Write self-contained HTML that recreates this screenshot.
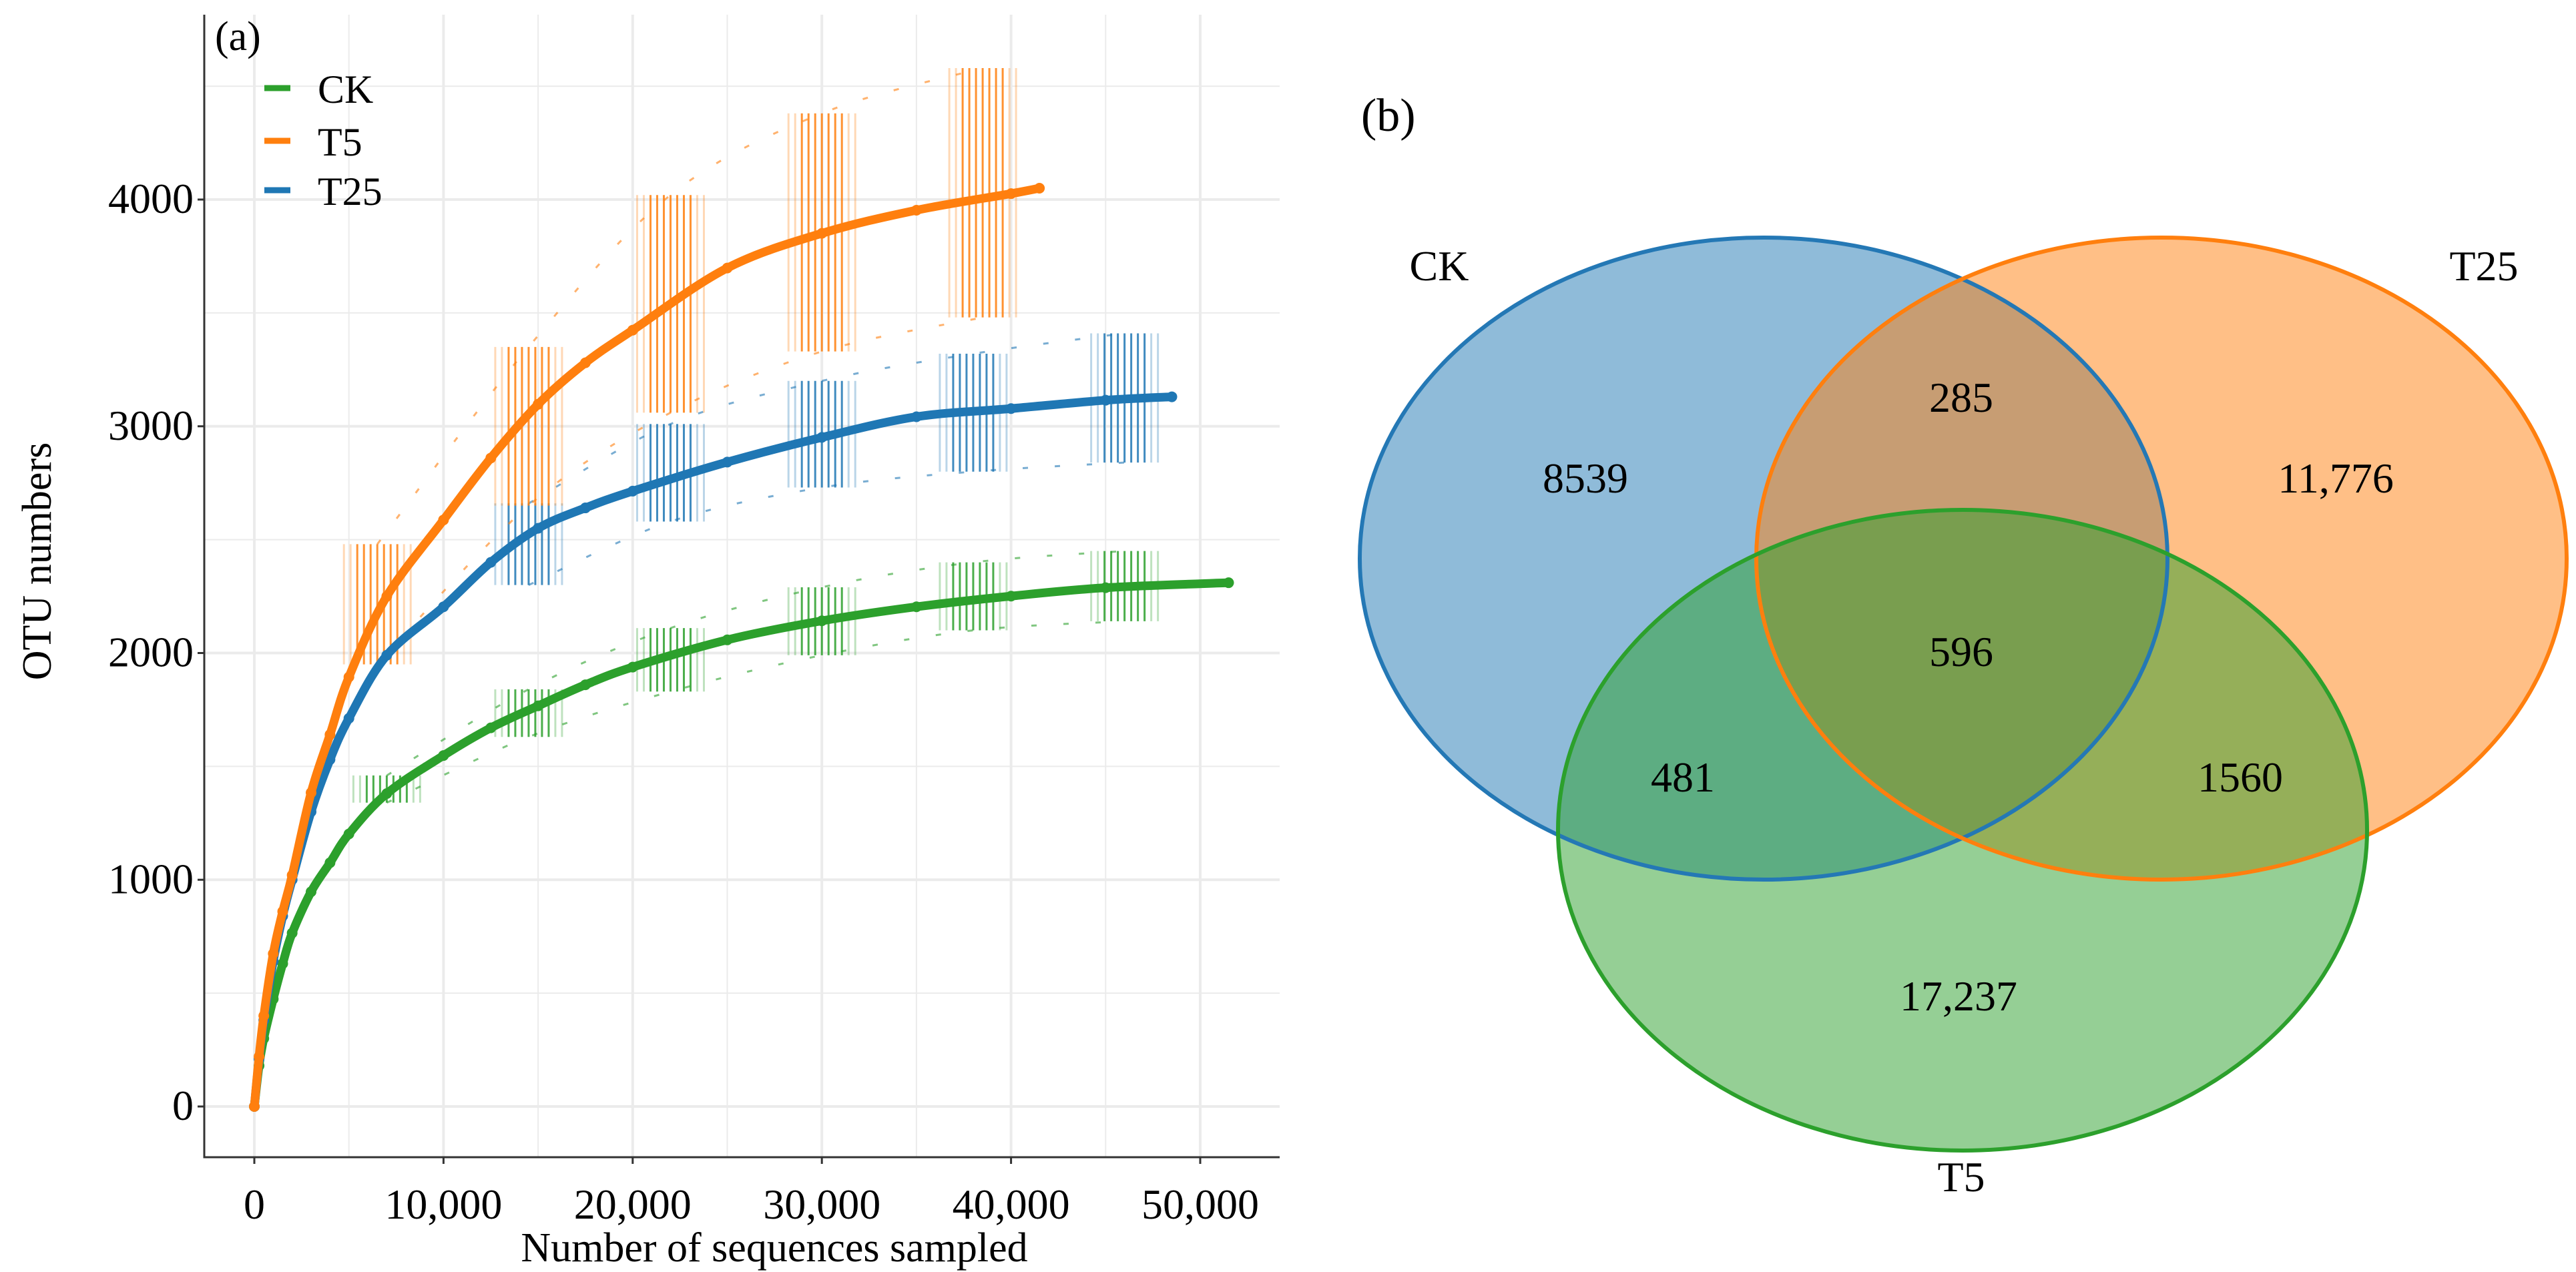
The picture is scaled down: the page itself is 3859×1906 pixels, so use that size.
<!DOCTYPE html>
<html><head><meta charset="utf-8"><style>
html,body{margin:0;padding:0;background:#fff;}
svg{display:block;font-family:"Liberation Serif",serif;}
</style></head><body>
<svg id="fig" width="3859" height="1906" viewBox="0 0 3859 1906" xmlns="http://www.w3.org/2000/svg">
<g id="chartA"></g>
<g id="venn">
  <text x="2039" y="196" font-size="70">(b)</text>
  <ellipse cx="2642" cy="837" rx="605" ry="481" fill="rgb(31,119,180)" fill-opacity="0.5" stroke="none"/>
  <ellipse cx="3238" cy="837" rx="607" ry="481" fill="rgb(255,127,14)" fill-opacity="0.5" stroke="none"/>
  <ellipse cx="2940" cy="1244" rx="606" ry="480" fill="rgb(44,160,44)" fill-opacity="0.5" stroke="none"/>
  <ellipse cx="2642" cy="837" rx="605" ry="481" fill="none" stroke="#2478b5" stroke-width="6"/>
  <ellipse cx="3238" cy="837" rx="607" ry="481" fill="none" stroke="#ff7f0e" stroke-width="6"/>
  <ellipse cx="2940" cy="1244" rx="606" ry="480" fill="none" stroke="#2ca02c" stroke-width="6"/>
  <g font-size="64" text-anchor="middle" fill="#000">
    <text x="2156" y="420">CK</text>
    <text x="3721" y="420">T25</text>
    <text x="2938" y="1785">T5</text>
    <text x="2375" y="738">8539</text>
    <text x="2938" y="617">285</text>
    <text x="3499" y="738">11,776</text>
    <text x="2938" y="998">596</text>
    <text x="2521" y="1186">481</text>
    <text x="3356" y="1186">1560</text>
    <text x="2934" y="1514">17,237</text>
  </g>
</g>
</svg>
<script>
const xTicks = [0, 10000, 20000, 30000, 40000, 50000];
const xTickLabels = ["0", "10,000", "20,000", "30,000", "40,000", "50,000"];
const yTicks = [0, 1000, 2000, 3000, 4000];
const yTickLabels = ["0", "1000", "2000", "3000", "4000"];
const seriesNames = ["CK", "T5", "T25"];
const ckX = [0,250,500,1000,1500,2000,3000,4000,5000,7000,10000,12500,15000,17500,20000,25000,30000,35000,40000,45000,51500];
const ckY = [0,180,300,474,630,765,947,1075,1202,1380,1548,1670,1767,1860,1938,2058,2142,2204,2251,2288,2310];
const t5X = [0,250,500,1000,1500,2000,3000,4000,5000,7000,10000,12500,15000,17500,20000,25000,30000,35000,40000,41500];
const t5Y = [0,220,400,674,860,1020,1384,1640,1894,2250,2587,2860,3097,3280,3424,3698,3851,3953,4026,4050];
const t25X = [0,250,500,1000,1500,2000,3000,4000,5000,7000,10000,12500,15000,17500,20000,25000,30000,35000,40000,45000,48500];
const t25Y = [0,210,380,640,840,1000,1300,1530,1712,1990,2204,2400,2550,2640,2714,2842,2951,3042,3078,3115,3130];
const ckErrX = [7000, 14500, 22000, 30000, 38000, 46000];
const ckErrLo = [1340, 1630, 1830, 1990, 2100, 2140];
const ckErrHi = [1460, 1840, 2110, 2290, 2400, 2450];
const t5ErrX = [6500, 14500, 22000, 30000, 38500];
const t5ErrLo = [1950, 2650, 3060, 3330, 3480];
const t5ErrHi = [2480, 3350, 4020, 4380, 4580];
const t25ErrX = [14500, 22000, 30000, 38000, 46000];
const t25ErrLo = [2300, 2580, 2730, 2800, 2840];
const t25ErrHi = [2660, 3010, 3200, 3320, 3410];

const NS = "http://www.w3.org/2000/svg";
const X0 = 306, X1 = 1917, Y0 = 22, Y1 = 1734;
function sx(v){ return 381 + v * (1798 - 381) / 50000; }
function sy(v){ return 1658 - v * (1658 - 299) / 4000; }
const g = document.getElementById('chartA');
function mk(tag, attrs, parent){ const e = document.createElementNS(NS, tag); for (const k in attrs) e.setAttribute(k, attrs[k]); (parent||g).appendChild(e); return e; }

for (let v = 0; v <= 4500; v += 500) {
  const l = mk('line', {x1:X0, x2:X1, y1:sy(v), y2:sy(v), stroke:'#ebebeb', 'stroke-width': v%1000===0?4:2});
  
  
}
for (let v = 0; v <= 55000; v += 5000) {
  if (sx(v) > X1) break;
  const l = mk('line', {x1:sx(v), x2:sx(v), y1:Y0, y2:Y1, stroke:'#ebebeb', 'stroke-width': v%10000===0?4:2});
  
  
}
const ax = mk('path', {d:`M${X0},${Y0} L${X0},${Y1} L${X1},${Y1}`, fill:'none', stroke:'#333', 'stroke-width':3});


yTicks.forEach((v, i) => {
  const t = mk('line', {x1:X0-10, x2:X0, y1:sy(v), y2:sy(v), stroke:'#333', 'stroke-width':3});
  
  
  const tx = mk('text', {x:X0-16, y:sy(v)+20, 'font-size':64, 'text-anchor':'end'});
  tx.textContent = yTickLabels[i];
  
  
});
xTicks.forEach((v, i) => {
  const t = mk('line', {x1:sx(v), x2:sx(v), y1:Y1, y2:Y1+10, stroke:'#333', 'stroke-width':3});
  
  
  const tx = mk('text', {x:sx(v), y:Y1+92, 'font-size':64, 'text-anchor':'middle'});
  tx.textContent = xTickLabels[i];
  
  
});
const xt = mk('text', {x:1160, y:1890, 'font-size':62, 'text-anchor':'middle'});
xt.textContent = 'Number of sequences sampled';


const yt = mk('text', {x:0, y:0, 'font-size':62, 'text-anchor':'middle', transform:'translate(76,841) rotate(-90)'});
yt.textContent = 'OTU numbers';


const pa = mk('text', {x:322, y:75, 'font-size':62});
pa.textContent = '(a)';



const colors = {CK:'#2ca02c', T5:'#ff7f0e', T25:'#1f77b4'};
function smoothPath(pts){
  let d = `M${pts[0][0]},${pts[0][1]}`;
  for (let i = 0; i < pts.length - 1; i++) {
    const p0 = pts[Math.max(0,i-1)], p1 = pts[i], p2 = pts[i+1], p3 = pts[Math.min(pts.length-1,i+2)];
    const c1x = p1[0] + (p2[0]-p0[0])/6, c1y = p1[1] + (p2[1]-p0[1])/6;
    const c2x = p2[0] - (p3[0]-p1[0])/6, c2y = p2[1] - (p3[1]-p1[1])/6;
    d += ` C${c1x},${c1y} ${c2x},${c2y} ${p2[0]},${p2[1]}`;
  }
  return d;
}
function errs(name, xs, lo, hi){
  const c = colors[name];
  const dl = mk('path', {d: smoothPath(xs.map((x,i)=>[sx(x),sy(lo[i])])), fill:'none', stroke:c, 'stroke-width':3, 'stroke-dasharray':'8 40', opacity:0.6});
  
  
  const dh = mk('path', {d: smoothPath(xs.map((x,i)=>[sx(x),sy(hi[i])])), fill:'none', stroke:c, 'stroke-width':3, 'stroke-dasharray':'8 40', opacity:0.6});
  
  
  xs.forEach((x, i) => {
    for (let k = -5; k <= 5; k++) {
      const px = sx(x) + k * 10;
      const e = mk('line', {x1:px, x2:px, y1:sy(lo[i]), y2:sy(hi[i]), stroke:c, 'stroke-width':3, opacity: Math.abs(k)>3?0.3:0.85});
      
      
    }
  });
}
errs('CK', ckErrX, ckErrLo, ckErrHi);
errs('T25', t25ErrX, t25ErrLo, t25ErrHi);
errs('T5', t5ErrX, t5ErrLo, t5ErrHi);

function curve(name, xs, ys){
  const c = colors[name];
  const p = mk('path', {d: smoothPath(xs.map((x,i)=>[sx(x),sy(ys[i])])), fill:'none', stroke:c, 'stroke-width':13, 'stroke-linejoin':'round', 'stroke-linecap':'round'});
  
  
  xs.forEach((x, i) => {
    const d = mk('circle', {cx:sx(x), cy:sy(ys[i]), r:8, fill:c});
    
    
  });
}
curve('CK', ckX, ckY);
curve('T25', t25X, t25Y);
curve('T5', t5X, t5Y);

const legY = [140, 219, 293];
seriesNames.forEach((n, i) => {
  const s = mk('line', {x1:396, x2:435, y1:legY[i]-8, y2:legY[i]-8, stroke:colors[n], 'stroke-width':9});
  
  
  const t = mk('text', {x:476, y:legY[i]+14, 'font-size':60});
  t.textContent = n;
  
  
});
</script>
</body></html>
